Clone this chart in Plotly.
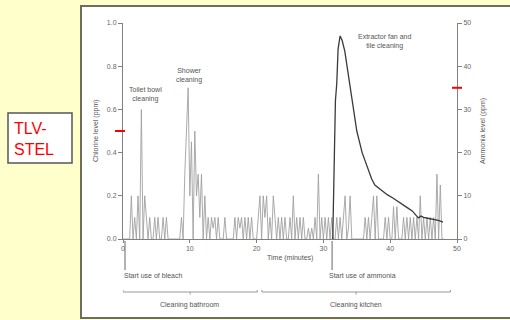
import plotly.graph_objects as go

# ---- data ----
chlorine_step_min = 0.25
chlorine_ppm = [
    0, 0, 0, 0,            # 0
    0, 0.2, 0, 0.1,        # 1
    0, 0.2, 0, 0.6,        # 2
    0, 0.2, 0.1, 0,        # 3
    0.1, 0, 0, 0.1,        # 4
    0, 0.1, 0, 0,          # 5
    0.1, 0, 0.1, 0,        # 6
    0, 0, 0, 0,            # 7
    0, 0, 0, 0.1,          # 8
    0, 0.3, 0.5, 0.7,      # 9
    0.2, 0.45, 0, 0.5,     # 10
    0.2, 0.3, 0.1, 0.3,    # 11
    0, 0.2, 0, 0.1,        # 12
    0, 0.1, 0.05, 0.1,     # 13
    0, 0.1, 0, 0,          # 14
    0, 0.1, 0, 0,          # 15
    0, 0, 0, 0.1,          # 16
    0, 0.1, 0.05, 0.1,     # 17
    0, 0.1, 0, 0.1,        # 18
    0, 0.1, 0, 0,          # 19
    0, 0.1, 0.2, 0,        # 20
    0.2, 0.1, 0.2, 0,      # 21
    0.1, 0, 0.2, 0.1,      # 22
    0, 0.1, 0, 0.1,        # 23
    0, 0.1, 0, 0,          # 24
    0.1, 0, 0.2, 0,        # 25
    0.1, 0, 0.1, 0,        # 26
    0.1, 0, 0, 0.05,       # 27
    0, 0.05, 0, 0.1,       # 28
    0, 0.3, 0, 0.1,        # 29
    0, 0.1, 0, 0.1,        # 30
    0, 0.1, 0, 0,          # 31
    0.1, 0, 0.1, 0,        # 32
    0.1, 0.2, 0, 0.05,     # 33
    0.2, 0, 0, 0,          # 34
    0, 0, 0, 0,            # 35
    0, 0.1, 0, 0.1,        # 36
    0, 0.1, 0.2, 0,        # 37
    0.2, 0, 0, 0,          # 38
    0, 0.1, 0, 0.1,        # 39
    0, 0, 0.15, 0,         # 40
    0.15, 0, 0, 0,         # 41
    0.1, 0, 0.1, 0,        # 42
    0.1, 0, 0.1, 0,        # 43
    0.1, 0, 0.2, 0,        # 44
    0.1, 0, 0.1, 0,        # 45
    0.1, 0, 0.1, 0,        # 46
    0.3, 0, 0.25, 0,       # 47
    0,                     # 48
]
chlorine_time = [i * chlorine_step_min for i in range(len(chlorine_ppm))]

ammonia_time = [31.4, 31.6, 31.8, 32.0, 32.2, 32.5, 32.8, 33.2, 33.8, 34.4, 35.0,
                35.8, 36.3, 36.7, 37.2, 37.7, 38.3, 38.9, 39.6, 40.4, 41.2, 41.9,
                42.6, 43.3, 43.8, 44.2, 44.6, 45.0, 45.6, 46.4, 47.2, 47.9]
ammonia_ppm = [0, 22, 32, 36, 44, 47, 46, 43.5, 37, 30.5, 25,
               20, 18, 16, 14, 12.5, 11.8, 10.9, 10.2, 9.5, 8.6, 7.9,
               7.2, 6.5, 5.5, 4.9, 5.3, 5.0, 4.8, 4.6, 4.3, 3.9]

x_ticks = [0, 10, 20, 30, 40, 50]
chl_ticks = [0.0, 0.2, 0.4, 0.6, 0.8, 1.0]
amm_ticks = [0, 10, 20, 30, 40, 50]

chlorine_stel = 0.5
ammonia_stel = 35

annotations_text = {
    "toilet": "Toilet bowl<br>cleaning",
    "shower": "Shower<br>cleaning",
    "fan": "Extractor fan and<br>tile cleaning",
    "bleach": "Start use of bleach",
    "ammonia": "Start use of ammonia",
    "bathroom": "Cleaning bathroom",
    "kitchen": "Cleaning kitchen",
}
bleach_start = 0.3
ammonia_start = 31.3
bathroom_span = [0, 20.1]
kitchen_span = [20.8, 49.0]

# ---- geometry helpers (pixel -> paper) ----
W, H = 510, 320
L, R, T, B = 123, 457, 23, 239
def px(x): return (x - L) / (R - L)
def py(y): return (B - y) / (B - T)

FONT = "Liberation Sans, Arial, sans-serif"
TXT = "#555555"
AX = "#808080"

fig = go.Figure()
fig.add_trace(go.Scatter(x=chlorine_time, y=chlorine_ppm, mode="lines",
                         line=dict(color="#a0a0a0", width=0.9), yaxis="y",
                         showlegend=False, hoverinfo="skip"))
fig.add_trace(go.Scatter(x=ammonia_time, y=ammonia_ppm, mode="lines",
                         line=dict(color="#3a3a3a", width=1.3), yaxis="y2",
                         showlegend=False, hoverinfo="skip"))

shapes = []
# white panel
shapes.append(dict(type="rect", xref="paper", yref="paper",
                   x0=px(81), x1=px(520), y0=py(318), y1=py(6),
                   fillcolor="white", line=dict(color="#6e6e5e", width=2), layer="below"))
# TLV-STEL box
shapes.append(dict(type="rect", xref="paper", yref="paper",
                   x0=px(8), x1=px(72), y0=py(163), y1=py(113),
                   fillcolor="white", line=dict(color="#555555", width=1.5)))
# red STEL marks
shapes.append(dict(type="line", xref="paper", yref="y", x0=px(115), x1=px(125),
                   y0=chlorine_stel, y1=chlorine_stel, line=dict(color="red", width=2)))
shapes.append(dict(type="line", xref="paper", yref="y2", x0=px(452), x1=px(462),
                   y0=ammonia_stel, y1=ammonia_stel, line=dict(color="red", width=2)))
# start markers
for t in (bleach_start, ammonia_start):
    shapes.append(dict(type="line", xref="x", yref="paper", x0=t, x1=t,
                       y0=py(241), y1=py(270), line=dict(color="#666666", width=1)))
# brackets
for a, b in (bathroom_span, kitchen_span):
    m = (a + b) / 2
    shapes.append(dict(type="line", xref="x", yref="paper", x0=a, x1=b,
                       y0=py(292), y1=py(292), line=dict(color="#999999", width=1)))
    for e in (a, b):
        shapes.append(dict(type="line", xref="x", yref="paper", x0=e, x1=e,
                           y0=py(292), y1=py(290), line=dict(color="#999999", width=1)))
    shapes.append(dict(type="line", xref="x", yref="paper", x0=m, x1=m,
                       y0=py(292), y1=py(294.5), line=dict(color="#999999", width=1)))

ann = []
def A(text, x, y, size=7, xanchor="center", angle=0, color=TXT, align="center"):
    ann.append(dict(text=text, xref="paper", yref="paper", x=px(x), y=py(y),
                    xanchor=xanchor, yanchor="middle", showarrow=False,
                    textangle=angle, align=align,
                    font=dict(family=FONT, size=size, color=color)))

A("Chlorine level (ppm)", 96, 131, angle=-90)
A("Ammonia level (ppm)", 483, 131, angle=-90)
A("Time (minutes)", 290, 258)
A(annotations_text["toilet"], 145, 94)
A(annotations_text["shower"], 189, 75)
A(annotations_text["fan"], 384, 42)
A(annotations_text["bleach"], 122, 275, xanchor="left")
A(annotations_text["ammonia"], 327, 275, xanchor="left")
A(annotations_text["bathroom"], 189, 305)
A(annotations_text["kitchen"], 356, 305)
A("TLV-<br>STEL", 12, 139, size=16, xanchor="left", color="red", align="left")

fig.update_layout(
    width=W, height=H,
    margin=dict(l=L, r=W - R, t=T, b=H - B, pad=0),
    paper_bgcolor="#FFFFCC", plot_bgcolor="white",
    showlegend=False,
    xaxis=dict(range=[0, 50], tickvals=x_ticks, ticks="outside", ticklen=3,
               tickcolor=AX, showline=True, linecolor=AX, linewidth=1,
               showgrid=False, zeroline=False,
               tickfont=dict(family=FONT, size=7, color="#666666")),
    yaxis=dict(range=[0, 1], tickvals=chl_ticks, tickformat=".1f", ticks="outside",
               ticklen=4, tickcolor=AX, showline=True, linecolor=AX, linewidth=1,
               showgrid=False, zeroline=False,
               tickfont=dict(family=FONT, size=7, color="#666666")),
    yaxis2=dict(range=[0, 50], tickvals=amm_ticks, overlaying="y", side="right",
                ticks="outside", ticklen=4, tickcolor=AX, showline=True,
                linecolor=AX, linewidth=1, showgrid=False, zeroline=False,
                tickfont=dict(family=FONT, size=7, color="#666666")),
    shapes=shapes, annotations=ann,
)

fig.write_html("out.html", config={"displayModeBar": False},
               post_script="document.body.style.margin='0';document.body.style.overflow='hidden';")
